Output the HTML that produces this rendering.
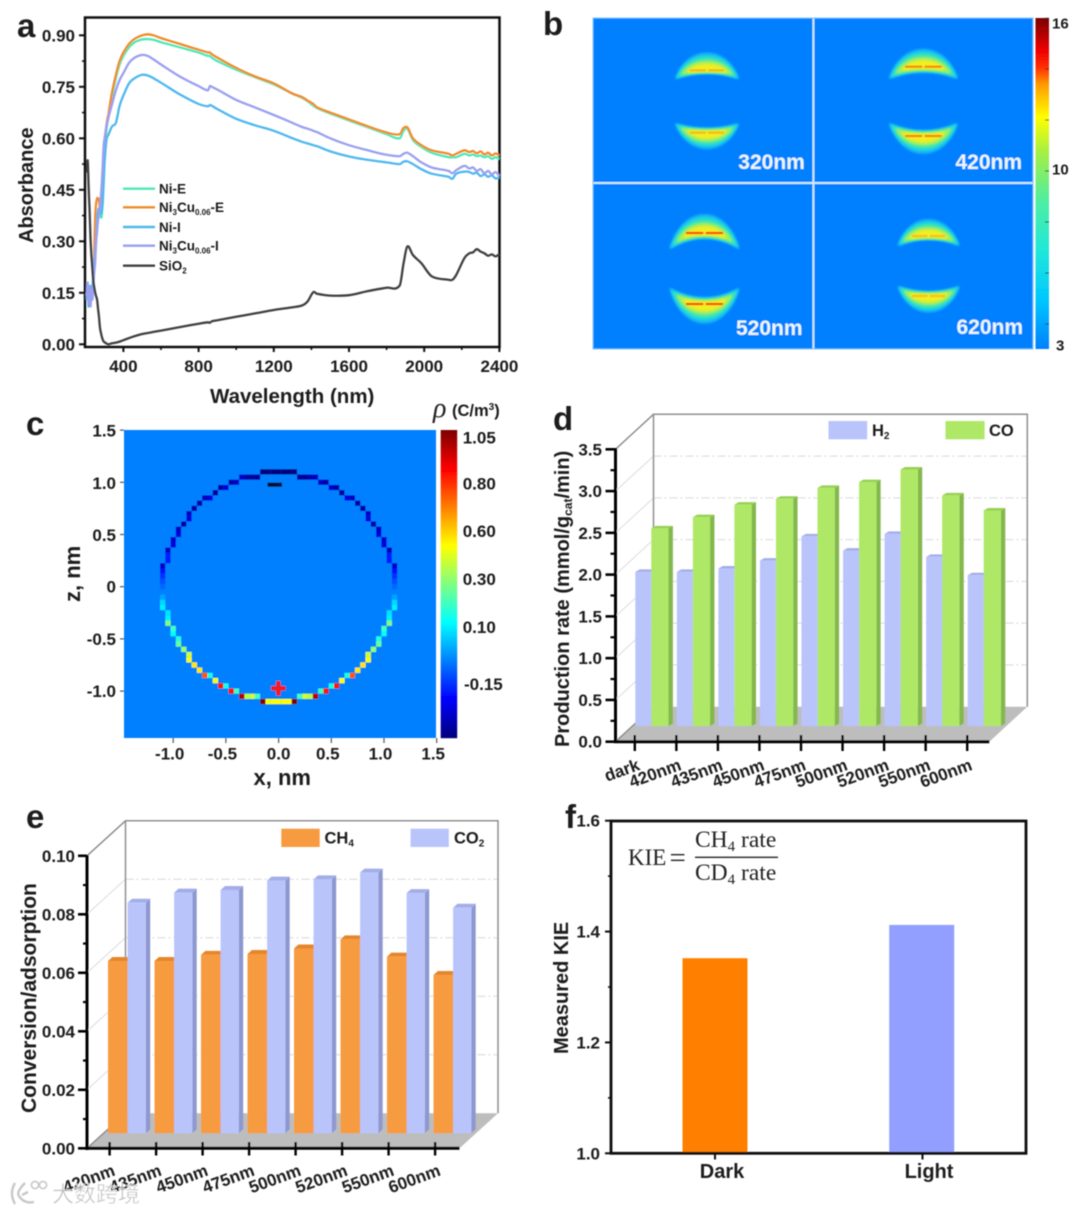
<!DOCTYPE html>
<html lang="en">
<head>
<meta charset="utf-8">
<title>Six-panel catalysis figure</title>
<style>
html,body{margin:0;padding:0;background:#fff;width:1080px;height:1212px;overflow:hidden}
svg{display:block}
text{font-family:"Liberation Sans","Noto Sans CJK SC",sans-serif;font-weight:bold;fill:#1a1a1a}
.serif{font-family:"Liberation Serif",serif;font-weight:normal;fill:#222}
</style>
</head>
<body>
<svg id="figure" xmlns="http://www.w3.org/2000/svg" width="1080" height="1212" viewBox="0 0 1080 1212">
<defs>
<filter id="soft" x="-2%" y="-2%" width="104%" height="104%"><feGaussianBlur stdDeviation="0.55"/></filter>
<filter id="glow" x="-20%" y="-30%" width="140%" height="160%"><feGaussianBlur stdDeviation="1.1"/></filter>
<linearGradient id="bar-b" x1="0" y1="1" x2="0" y2="0">
<stop offset="0" stop-color="#0080ff"/><stop offset=".15" stop-color="#00c8ff"/><stop offset=".3" stop-color="#20e8d8"/><stop offset=".45" stop-color="#50eea0"/><stop offset=".6" stop-color="#a8f040"/><stop offset=".7" stop-color="#ffff00"/><stop offset=".8" stop-color="#ff9a00"/><stop offset=".85" stop-color="#ff3000"/><stop offset=".9" stop-color="#f00000"/><stop offset="1" stop-color="#7a0000"/>
</linearGradient>
</defs>
<rect width="1080" height="1212" fill="#fff"/>
<g filter="url(#soft)">

<g id="panel-a">
<text x="17" y="37" font-size="33">a</text>
<rect x="85" y="17.5" width="414.5" height="329.5" fill="none" stroke="#111" stroke-width="2.5"/>
<g id="a-axes"></g>
<g id="a-lines"></g>
<text transform="translate(33,243) rotate(-90)" font-size="20">Absorbance</text>
<text x="210" y="403" font-size="20.5">Wavelength (nm)</text>
<g font-size="13.5">
<line x1="123" x2="155" y1="188.7" y2="188.7" stroke="#4de8b4" stroke-width="2.4"/>
<text x="159" y="193.5">Ni-E</text>
<line x1="123" x2="155" y1="207.3" y2="207.3" stroke="#f08a2c" stroke-width="2.4"/>
<text x="159" y="212">Ni<tspan font-size="8" dy="3">3</tspan><tspan dy="-3">Cu</tspan><tspan font-size="8" dy="3">0.06</tspan><tspan dy="-3">-E</tspan></text>
<line x1="123" x2="155" y1="227" y2="227" stroke="#4fb7f0" stroke-width="2.4"/>
<text x="159" y="232">Ni-I</text>
<line x1="123" x2="155" y1="245.7" y2="245.7" stroke="#9aa0f0" stroke-width="2.4"/>
<text x="159" y="250.5">Ni<tspan font-size="8" dy="3">3</tspan><tspan dy="-3">Cu</tspan><tspan font-size="8" dy="3">0.06</tspan><tspan dy="-3">-I</tspan></text>
<line x1="123" x2="155" y1="265.7" y2="265.7" stroke="#404040" stroke-width="2.4"/>
<text x="159" y="270.5">SiO<tspan font-size="8" dy="3">2</tspan></text>
</g>
</g>

<g id="panel-b">
<text x="543" y="35" font-size="33">b</text>
<rect x="593" y="18" width="440" height="331" fill="#0080ff"/>
<g id="b-maps"></g>
<line x1="813.4" x2="813.4" y1="18" y2="349" stroke="#cfeaff" stroke-width="2"/>
<line x1="593" x2="1033" y1="183" y2="183" stroke="#cfeaff" stroke-width="2"/>
<rect x="593" y="18" width="440" height="331" fill="none" stroke="#7cc4ff" stroke-width="1"/>
<rect x="1035.5" y="18" width="13.5" height="331" fill="url(#bar-b)"/>
<g id="b-bar-ticks"></g>
</g>

<g id="panel-c">
<text x="26" y="435" font-size="33">c</text>
<rect x="124" y="430" width="312" height="308" fill="#0080ff"/>
<g id="c-axes"></g>
<g id="c-ring"></g>
<rect x="267.5" y="482.7" width="14.5" height="4" fill="#001030"/>
<g fill="#f01c24">
<rect x="271" y="686" width="14.6" height="4.6"/>
<rect x="276" y="681" width="4.6" height="14.6"/>
</g>
<g id="c-colorbar"></g>
<text class="serif" style="font-style:italic" x="433" y="417" font-size="28">ρ</text>
<text x="452" y="416" font-size="16.5">(C/m<tspan font-size="10" dy="-6">3</tspan><tspan dy="6">)</tspan></text>
<text x="253.5" y="785" font-size="22">x, nm</text>
<text transform="translate(80,602) rotate(-90)" font-size="22">z, nm</text>
</g>

<g id="panel-d">
<text x="553" y="430" font-size="33">d</text>
<g id="d-wall"></g>
<g id="d-bars"></g>
<g id="d-axes"></g>
<text transform="translate(569,747) rotate(-90)" font-size="20">Production rate (mmol/g<tspan font-size="12" dy="3">cat</tspan><tspan dy="-3">/min)</tspan></text>
<rect x="828.5" y="421" width="38.7" height="18.3" fill="#b9c4fb"/>
<text x="872" y="436" font-size="16.5">H<tspan font-size="10" dy="3">2</tspan></text>
<rect x="945.5" y="421" width="39.1" height="18.3" fill="#aee866"/>
<text x="989" y="436" font-size="16.5">CO</text>
</g>

<g id="panel-e">
<text x="26" y="828" font-size="33">e</text>
<g id="e-wall"></g>
<g id="e-bars"></g>
<g id="e-axes"></g>
<text transform="translate(36,1113) rotate(-90)" font-size="21">Conversion/adsorption</text>
<rect x="281.3" y="828.7" width="38.4" height="18.3" fill="#f79b40"/>
<text x="324.5" y="843.5" font-size="16.5">CH<tspan font-size="10" dy="3">4</tspan></text>
<rect x="410.6" y="828.7" width="38.2" height="18.3" fill="#b9c4fb"/>
<text x="454" y="843.5" font-size="16.5">CO<tspan font-size="10" dy="3">2</tspan></text>
</g>

<g id="panel-f">
<text x="565" y="828" font-size="33">f</text>
<g id="f-bars"></g>
<rect x="611" y="821" width="415" height="332.3" fill="none" stroke="#111" stroke-width="2.8"/>
<g id="f-axes"></g>
<text transform="translate(568,1054) rotate(-90)" font-size="20">Measured KIE</text>
<g>
<text class="serif" x="628" y="865" font-size="23">KIE</text>
<text class="serif" x="669.5" y="867" font-size="29">=</text>
<text class="serif" x="695" y="847" font-size="23.5">CH<tspan font-size="15" dy="4">4</tspan><tspan dy="-4"> rate</tspan></text>
<line x1="695" x2="778" y1="857.3" y2="857.3" stroke="#222" stroke-width="1.3"/>
<text class="serif" x="695" y="880" font-size="23.5">CD<tspan font-size="15" dy="4">4</tspan><tspan dy="-4"> rate</tspan></text>
</g>
</g>

<g>
<path d="M15 1183 q-6 10 0 21 M25 1183 q-9 9 -6 13 q5 8 15 6 M28 1192 l-6 3" fill="none" stroke="#c8c8c8" stroke-width="2.4"/>
<circle cx="35" cy="1185" r="3.6" fill="none" stroke="#c8c8c8" stroke-width="1.6"/>
<circle cx="43" cy="1185" r="3.6" fill="none" stroke="#c8c8c8" stroke-width="1.6"/>
<text x="52" y="1202" font-size="22" style="font-weight:normal;fill:rgba(175,175,175,.8);stroke:#fff;stroke-width:.4">大数跨境</text>
</g>
</g>
</svg>

<script>
/* ---------- panel a data ---------- */
const aWavelengths = [205,210,215,220,225,230,235,240,245,250,255,260,265,270,275,280,285,290,295,300,310,320,340,360,380,400,430,460,500,530,560,600,700,800,850,860,870,900,1000,1100,1200,1300,1350,1380,1410,1430,1500,1600,1700,1800,1870,1890,1910,1940,1985,2040,2130,2150,2170,2215,2240,2260,2280,2300,2320,2340,2360,2380,2400];
const aNiE = [.15,.13,.16,.12,.15,.13,.17,.2,.26,.33,.36,.375,.38,.385,.38,.37,.375,.42,.5,.56,.625,.66,.72,.775,.815,.84,.865,.88,.888,.889,.887,.88,.865,.85,.84,.84,.835,.825,.8,.778,.757,.73,.718,.708,.695,.688,.672,.652,.632,.612,.6,.622,.628,.595,.575,.558,.545,.545,.545,.555,.55,.553,.548,.55,.545,.548,.54,.545,.54];
const aNi3CuE = [.14,.16,.13,.16,.13,.16,.15,.19,.27,.37,.41,.425,.425,.42,.39,.385,.4,.47,.55,.59,.64,.67,.735,.785,.825,.85,.875,.89,.9,.903,.9,.892,.875,.858,.85,.85,.845,.835,.805,.78,.76,.73,.72,.71,.7,.69,.675,.655,.635,.617,.612,.63,.632,.6,.58,.565,.555,.55,.555,.565,.56,.563,.556,.562,.553,.558,.55,.556,.55];
const aNiI = [.13,.17,.11,.16,.12,.17,.14,.2,.24,.27,.3,.36,.39,.395,.39,.38,.39,.41,.47,.53,.595,.61,.635,.645,.695,.725,.76,.775,.785,.783,.775,.762,.728,.7,.693,.697,.695,.685,.657,.638,.622,.6,.59,.585,.58,.577,.562,.547,.537,.53,.525,.532,.533,.525,.51,.497,.488,.482,.497,.503,.502,.497,.5,.49,.495,.488,.492,.483,.487];
const aNi3CuI = [.14,.18,.12,.17,.11,.16,.13,.17,.21,.24,.3,.33,.36,.38,.4,.43,.47,.52,.58,.6,.635,.66,.7,.74,.77,.79,.82,.835,.843,.84,.83,.815,.78,.752,.74,.752,.75,.742,.712,.69,.668,.645,.633,.628,.622,.618,.6,.58,.565,.552,.548,.555,.558,.548,.53,.515,.505,.498,.507,.52,.512,.515,.505,.51,.498,.505,.495,.502,.49];
const aSiO2 = [.5,.535,.46,.39,.31,.26,.22,.185,.165,.15,.14,.13,.105,.08,.05,.035,.022,.014,.008,.006,.002,0,.003,.005,.008,.012,.018,.024,.03,.033,.036,.04,.05,.06,.064,.063,.067,.07,.08,.09,.1,.108,.113,.125,.152,.147,.142,.143,.155,.165,.172,.235,.285,.26,.236,.198,.188,.188,.202,.252,.265,.268,.277,.27,.265,.258,.262,.256,.263];
const aYTicks = [0,.15,.3,.45,.6,.75,.9];
const aXTicks = [400,800,1200,1600,2000,2400];

/* ---------- panel b data ---------- */
const bLabels = ["320nm","420nm","520nm","620nm"];
const bFieldPeak = [13,14,15.5,12.5];
const bBarLabels = ["16","10","3"];
const bBarValues = [16,10,3];

/* ---------- panel c data ---------- */
const cXTicks = [-1,-.5,0,.5,1,1.5];
const cYTicks = [1.5,1,.5,0,-.5,-1];
const cBarLabels = ["1.05","0.80","0.60","0.30","0.10","-0.15"];
const cBarRho = [1.05,.8,.6,.3,.1,-.15];
const cBarLevel = [.975,.827,.672,.516,.36,.175];
const ringRowIndex = [22,21,20,19,18,17,16,15,14,13,12,11,10,9,8,7,6,5,4,3,2,1,0,-1,-2,-3,-4,-5,-6,-7,-8,-9,-10,-11,-12,-13,-14,-15,-16,-17,-18,-19,-20,-21,-22];
const ringFirstColumn = [0,4,8,10,12,13,15,16,17,17,18,19,19,20,20,21,21,21,22,22,22,22,22,22,22,22,22,21,21,21,20,20,19,19,18,17,17,16,15,13,12,10,8,4,0];
const ringRho = [
[-.4,-.4,-.4,-.4],[-.36,-.36,-.34,-.3],[-.3,-.34],[-.28,-.34],[-.36],[-.27,-.31],[-.34],[-.34],[-.3],[-.26],[-.34],[-.31],[-.27],[-.29],[-.26],[-.31],[-.18],[-.18],[-.29],[-.2],[-.15],[-.11],[-.08],[-.05],[0],[.07],[.1],[.08],[.1],[.28],[.2],[.12],[.16],[.25],[.3],[.42],[.5],[.55],[.55],[.15,.75],[.5],[.15,.85],[.2,.85],[.2,.42,.38,1],[.5,.5,.5,1.1]
];

/* ---------- panel d data ---------- */
const dCategories = ["dark","420nm","435nm","450nm","475nm","500nm","520nm","550nm","600nm"];
const dH2 = [1.845,1.845,1.885,1.98,2.27,2.1,2.3,2.025,1.805];
const dCO = [2.365,2.5,2.65,2.72,2.85,2.92,3.07,2.76,2.58];
const dYTicks = [0,.5,1,1.5,2,2.5,3,3.5];

/* ---------- panel e data ---------- */
const eCategories = ["420nm","435nm","450nm","475nm","500nm","520nm","550nm","600nm"];
const eCH4 = [.0589,.0589,.061,.0613,.0632,.0663,.0604,.0541];
const eCO2 = [.0788,.0823,.0832,.0864,.0868,.0891,.0821,.0771];
const eYTicks = [0,.02,.04,.06,.08,.1];

/* ---------- panel f data ---------- */
const fCategories = ["Dark","Light"];
const fValues = [1.352,1.412];
const fYTicks = [1,1.2,1.4,1.6];
const fMinorTicks = [1.1,1.3,1.5];

/* ---------- helpers ---------- */
const NS = "http://www.w3.org/2000/svg";
function mk(parentId, tag, attrs, name, txt){
  const el = document.createElementNS(NS, tag);
  for (const k in attrs) el.setAttribute(k, attrs[k]);
  
  
  if (txt !== undefined) el.textContent = txt;
  document.getElementById(parentId).appendChild(el);
  return el;
}
function jet(t){
  const c = v => Math.round(255*Math.max(0,Math.min(1,v)));
  return `rgb(${c(1.5-Math.abs(4*t-3))},${c(1.5-Math.abs(4*t-2))},${c(1.5-Math.abs(4*t-1))})`;
}

/* ---------- panel a ---------- */
const ax = w => 123.4 + (w-400)*0.188;
const ay = v => 344.3 - v*343.3;
aYTicks.forEach(v=>{
  mk('a-axes','line',{x1:79,x2:85,y1:ay(v),y2:ay(v),stroke:'#111','stroke-width':2},'a-y-tick');
  mk('a-axes','text',{x:75,y:ay(v)+6,'text-anchor':'end','font-size':17},'a-y-tick-label',v.toFixed(2));
});
aYTicks.slice(0,-1).forEach(v=>{
  mk('a-axes','line',{x1:82,x2:85,y1:ay(v+.075),y2:ay(v+.075),stroke:'#111','stroke-width':1.6},'a-y-minor-tick');
});
aXTicks.forEach(w=>{
  mk('a-axes','line',{x1:ax(w),x2:ax(w),y1:347,y2:352,stroke:'#111','stroke-width':2},'a-x-tick');
  mk('a-axes','text',{x:ax(w),y:372,'text-anchor':'middle','font-size':17},'a-x-tick-label',String(w));
  if (w<2400) mk('a-axes','line',{x1:ax(w+200),x2:ax(w+200),y1:347,y2:350,stroke:'#111','stroke-width':1.6},'a-x-minor-tick');
});
const aSeries = [
  {name:'line-ni-e',vals:aNiE,col:'#4de8b4'},
  {name:'line-ni3cu-e',vals:aNi3CuE,col:'#f08a2c'},
  {name:'line-ni-i',vals:aNiI,col:'#4fb7f0'},
  {name:'line-ni3cu-i',vals:aNi3CuI,col:'#9aa0f0'},
  {name:'line-sio2',vals:aSiO2,col:'#404040'}
];
function smoothPath(pts){
  let d=`M${pts[0][0].toFixed(1)} ${pts[0][1].toFixed(1)}`;
  for(let i=0;i<pts.length-1;i++){
    const p0=pts[Math.max(0,i-1)],p1=pts[i],p2=pts[i+1],p3=pts[Math.min(pts.length-1,i+2)];
    const k=(p2[0]-p1[0]);
    const s1=(p2[1]-p0[1])/Math.max(.01,p2[0]-p0[0]);
    const s2=(p3[1]-p1[1])/Math.max(.01,p3[0]-p1[0]);
    const c1x=p1[0]+k/3,c1y=p1[1]+s1*k/3,c2x=p2[0]-k/3,c2y=p2[1]-s2*k/3;
    d+=`C${c1x.toFixed(1)} ${c1y.toFixed(1)} ${c2x.toFixed(1)} ${c2y.toFixed(1)} ${p2[0].toFixed(1)} ${p2[1].toFixed(1)}`;
  }
  return d;
}
aSeries.forEach(s=>{
  const pts = s.vals.map((v,i)=>[ax(aWavelengths[i]),ay(v)]);
  mk('a-lines','path',{d:smoothPath(pts),fill:'none',stroke:s.col,'stroke-width':2.3,'stroke-linejoin':'round'},s.name);
});

/* ---------- panel b ---------- */
const bLayers = [[1,1,'#14b0f6'],[.85,.96,'#1cd4e0'],[.68,.88,'#44e6b0'],[.5,.78,'#a8f058'],[.32,.6,'#f2ee24']];
function crescent(panel,cx,y0,dir,w,a,h,i){
  const m=(i-a)/2, th=(a+i)/2;
  bLayers.forEach(l=>{
    const s=l[0],k=l[1];
    const mL=m*s;
    const ye=h*k*k+mL*(1-k*k);
    const yA=mL-th*s, yI=mL+th*s;
    const Y=v=>(y0+dir*v).toFixed(1);
    const c=(8*yA-2*ye)/6;
    const d=`M${cx-w*k} ${Y(ye)} C${cx-w*k*.62} ${Y(c)} ${cx+w*k*.62} ${Y(c)} ${cx+w*k} ${Y(ye)} Q${cx} ${Y(2*yI-ye)} ${cx-w*k} ${Y(ye)}Z`;
    const el=mk('b-maps','path',{d:d,fill:l[2],stroke:l[2],'stroke-width':2,'stroke-linejoin':'round',filter:'url(#glow)'},'hotspot-layer');
    el.setAttribute('data-panel',panel);
  });
  const p=bFieldPeak[panel];
  const op=Math.max(.25,Math.min(1,(p-12)/3.2));
  const hw=w*.52;
  mk('b-maps','line',{x1:cx-hw,x2:cx-2,y1:y0,y2:y0,stroke:'#ff4a08','stroke-width':2.2,opacity:op,'stroke-linecap':'round'},'hotspot-core');
  mk('b-maps','line',{x1:cx+2,x2:cx+hw,y1:y0,y2:y0,stroke:'#ff4a08','stroke-width':2.2,opacity:op,'stroke-linecap':'round'},'hotspot-core');
}
crescent(0,707,70.3,1,31,17,8,2.5);
crescent(0,707,132.7,-1,31,15.5,8.5,4);
crescent(1,923.4,66.7,1,33.5,17,11.3,5);
crescent(1,923.4,136,-1,33.5,17,12,5);
crescent(2,704.5,233,1,34,18,15,5);
crescent(2,704.5,304,-1,34,18.7,15,6);
crescent(3,928.6,236,1,30,16,9,3);
crescent(3,928.6,296,-1,30,15.7,9,4);
const bLabelX=[738.3,955.5,736,956.5], bLabelY=[169,169,335,334];
bLabels.forEach((t,i)=>{
  const el=mk('b-maps','text',{x:bLabelX[i],y:bLabelY[i],'font-size':21},'b-wavelength-label',t);
  el.style.fill='#eaf6ff';
});
[18.3,69,120,171,222,273,324].forEach(y=>{
  mk('b-bar-ticks','line',{x1:1045,x2:1049,y1:y,y2:y,stroke:'#223',"stroke-width":1},'b-colorbar-tick');
});
bBarLabels.forEach((t,i)=>{
  const yc=[23,169,345][i];
  mk('b-bar-ticks','text',{x:t.length>1?1052:1056,y:yc+5.5,'font-size':15},'b-colorbar-label',t);
});

/* ---------- panel c ---------- */
const cx = x => 278.6 + x*105.4;
const cy = z => 586.7 - z*104.4;
function rhoToLevel(r){
  if (r>=cBarRho[0]) return Math.min(1,cBarLevel[0]+(r-cBarRho[0])*.5);
  const n=cBarRho.length;
  if (r<=cBarRho[n-1]) return Math.max(0,cBarLevel[n-1]+(r-cBarRho[n-1])*.7);
  for(let i=0;i<n-1;i++){
    if(r<=cBarRho[i]&&r>=cBarRho[i+1]){
      return cBarLevel[i+1]+(r-cBarRho[i+1])/(cBarRho[i]-cBarRho[i+1])*(cBarLevel[i]-cBarLevel[i+1]);
    }
  }
  return .25;
}
ringRowIndex.forEach((row,ri)=>{
  ringRho[ri].forEach((rho,j)=>{
    const col=ringFirstColumn[ri]+j;
    const draw=sign=>{
      const xn=sign*col*.05, zn=row*.05;
      mk('c-ring','rect',{x:(cx(xn)-2.65).toFixed(2),y:(cy(zn)-2.62).toFixed(2),width:5.3,height:5.25,fill:jet(rhoToLevel(rho))},'ring-cell');
    };
    draw(1);
    if(col!==0) draw(-1);
  });
});
cXTicks.forEach(x=>{
  mk('c-axes','line',{x1:cx(x),x2:cx(x),y1:738,y2:743,stroke:'#555','stroke-width':1.2},'c-x-tick');
  mk('c-axes','text',{x:cx(x)-(x===0?0:3.5),y:759.5,'text-anchor':'middle','font-size':17},'c-x-tick-label',x.toFixed(1));
});
cYTicks.forEach(z=>{
  mk('c-axes','line',{x1:120,x2:124,y1:cy(z),y2:cy(z),stroke:'#555','stroke-width':1.2},'c-y-tick');
  mk('c-axes','text',{x:116,y:cy(z)+(z>0?6.5:6),'text-anchor':'end','font-size':17},'c-y-tick-label',z===0?'0':z.toFixed(1));
});
for(let i=0;i<154;i++){
  mk('c-colorbar','rect',{x:440.7,y:430+i*2,width:16.5,height:2.2,fill:jet(1-i/153)},'c-colorbar-band');
}
cBarLabels.forEach((t,i)=>{
  mk('c-colorbar','text',{x:t[0]==='-'?464:462.7,y:(738-cBarLevel[i]*308+6).toFixed(1),'font-size':17},'c-colorbar-label',t);
});

/* ---------- 3D bar drawing ---------- */
function bar3d(parent,x,w,top,base,dy,c,cTop,cSide,name){
  const dx=4.4;
  mk(parent,'polygon',{points:`${x+w},${top} ${x+w+dx},${top-dy} ${x+w+dx},${base-dy} ${x+w},${base}`,fill:cSide},name+'-side');
  mk(parent,'polygon',{points:`${x},${top} ${x+dx},${top-dy} ${x+w+dx},${top-dy} ${x+w},${top}`,fill:cTop},name+'-top');
  mk(parent,'rect',{x:x,y:top,width:w,height:base-top,fill:c},name);
}
function wall(parent,x0,yBase,xEnd,yTopTick,dX,dY,yTicks,yOf){
  const floor=[[x0,yBase],[xEnd,yBase],[xEnd+dX,yBase-dY],[x0+dX,yBase-dY]].map(p=>p.join(',')).join(' ');
  mk(parent,'polygon',{points:floor,fill:'#bdbdbd'},'plot-floor');
  yTicks.forEach((v,i)=>{
    const y=yOf(v);
    const isEdge=(i===0||i===yTicks.length-1);
    mk(parent,'line',{x1:x0,y1:y,x2:x0+dX,y2:y-dY,stroke:isEdge?'#8a8a8a':'#dcdcdc','stroke-width':isEdge?1.4:1},'side-wall-line');
    if(!isEdge) mk(parent,'line',{x1:x0+dX,y1:y-dY,x2:xEnd+dX,y2:y-dY,stroke:'#d8d8d8','stroke-width':1,'stroke-dasharray':'8 3 2 3'},'back-wall-gridline');
  });
  mk(parent,'polyline',{points:`${x0+dX},${yBase-dY} ${x0+dX},${yTopTick-dY} ${xEnd+dX},${yTopTick-dY} ${xEnd+dX},${yBase-dY}`,fill:'none',stroke:'#8f8f8f','stroke-width':1.5},'back-wall-border');
}

/* ---------- panel d ---------- */
const dY = v => 741.7 - v*83.54;
const dBarY = v => 726 - v*83.54;
const dX0 = i => 635.3 + i*41.55;
wall('d-wall',615.5,741.7,989.3,449.3,38,35,dYTicks,dY);
dCategories.forEach((c,i)=>{
  bar3d('d-bars',dX0(i),16,dBarY(dH2[i]),726,2.5,'#b9c4fb','#a3aee8','#9aa5dd','bar-h2-'+c);
  bar3d('d-bars',dX0(i)+16,17.2,dBarY(dCO[i]),726,2.5,'#aee866','#96d052','#84b84e','bar-co-'+c);
});
mk('d-axes','line',{x1:615.5,x2:615.5,y1:448,y2:743,stroke:'#000','stroke-width':3},'d-y-axis');
mk('d-axes','line',{x1:614,x2:989.3,y1:741.7,y2:741.7,stroke:'#000','stroke-width':3},'d-x-axis');
dYTicks.forEach(v=>{
  mk('d-axes','line',{x1:605.5,x2:615.5,y1:dY(v),y2:dY(v),stroke:'#000','stroke-width':2.6},'d-y-tick');
  mk('d-axes','text',{x:602,y:dY(v)+6,'text-anchor':'end','font-size':17},'d-y-tick-label',v.toFixed(1));
  if(v<3.5) mk('d-axes','line',{x1:610.5,x2:615.5,y1:dY(v+.25),y2:dY(v+.25),stroke:'#000','stroke-width':2.2},'d-y-minor-tick');
});
dCategories.forEach((c,i)=>{
  const x=634.8+i*41.55;
  mk('d-axes','line',{x1:x,x2:x,y1:735,y2:751,stroke:'#000','stroke-width':2.4},'d-x-tick');
  mk('d-axes','text',{transform:`translate(${x+6},769.5) rotate(-20)`,'text-anchor':'end','font-size':17},'d-x-tick-label',c);
});

/* ---------- panel e ---------- */
const eY = v => 1148.3 - v*2925;
const eBarY = v => 1133.3 - v*2925;
const eX0 = i => 108 + i*46.5;
wall('e-wall',87,1148.3,459.5,855.8,38.5,35,eYTicks,eY);
eCategories.forEach((c,i)=>{
  bar3d('e-bars',eX0(i),19.6,eBarY(eCH4[i]),1133.3,4,'#f79b40','#e5862c','#cc7a2a','bar-ch4-'+c);
  bar3d('e-bars',eX0(i)+19.6,18.2,eBarY(eCO2[i]),1133.3,4,'#b9c4fb','#a3aee8','#8e98d0','bar-co2-'+c);
});
mk('e-axes','line',{x1:87,x2:87,y1:855,y2:1150,stroke:'#000','stroke-width':3},'e-y-axis');
mk('e-axes','line',{x1:85.5,x2:459.5,y1:1148.3,y2:1148.3,stroke:'#000','stroke-width':3},'e-x-axis');
eYTicks.forEach(v=>{
  mk('e-axes','line',{x1:78,x2:87,y1:eY(v),y2:eY(v),stroke:'#000','stroke-width':2.6},'e-y-tick');
  mk('e-axes','text',{x:75,y:eY(v)+6,'text-anchor':'end','font-size':17},'e-y-tick-label',v.toFixed(2));
  if(v<.1) mk('e-axes','line',{x1:83,x2:87,y1:eY(v+.01),y2:eY(v+.01),stroke:'#000','stroke-width':2.2},'e-y-minor-tick');
});
eCategories.forEach((c,i)=>{
  const x=109.6+i*46.5;
  mk('e-axes','line',{x1:x,x2:x,y1:1142,y2:1155.5,stroke:'#000','stroke-width':2.4},'e-x-tick');
  mk('e-axes','text',{transform:`translate(${x+6.5},1175) rotate(-20)`,'text-anchor':'end','font-size':17},'e-x-tick-label',c);
});

/* ---------- panel f ---------- */
const fY = v => 1153.3 - (v-1)*554.3;
const fBarX = [682.5,889.2];
const fBarCol = ['#ff8000','#929ffe'];
const fTickX = [715,922.5];
const fLabelX = [722,929];
fCategories.forEach((c,i)=>{
  mk('f-bars','rect',{x:fBarX[i],y:fY(fValues[i]),width:65,height:1153.3-fY(fValues[i]),fill:fBarCol[i]},'f-bar-'+c.toLowerCase());
  mk('f-axes','line',{x1:fTickX[i],x2:fTickX[i],y1:1153,y2:1159.5,stroke:'#111','stroke-width':2},'f-x-tick');
  mk('f-axes','text',{x:fLabelX[i],y:1178,'text-anchor':'middle','font-size':20},'f-x-tick-label',c);
});
fYTicks.forEach(v=>{
  mk('f-axes','line',{x1:605,x2:611,y1:fY(v),y2:fY(v),stroke:'#111','stroke-width':2},'f-y-tick');
  mk('f-axes','text',{x:600,y:fY(v)+6,'text-anchor':'end','font-size':17},'f-y-tick-label',v.toFixed(1));
});
fMinorTicks.forEach(v=>{
  mk('f-axes','line',{x1:608,x2:611,y1:fY(v),y2:fY(v),stroke:'#111','stroke-width':1.6},'f-y-minor-tick');
});
</script>
</body>
</html>
